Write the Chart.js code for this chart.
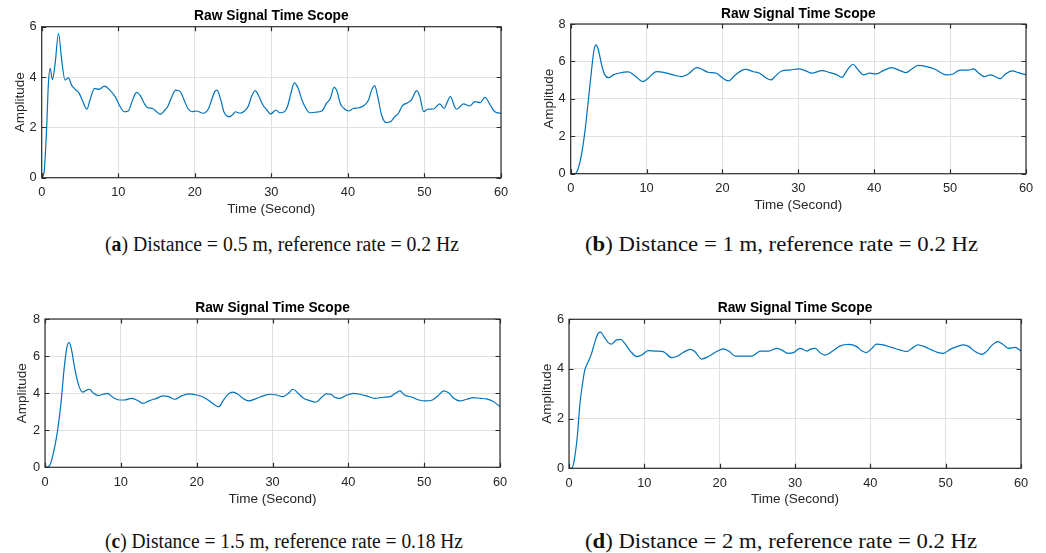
<!DOCTYPE html>
<html>
<head>
<meta charset="utf-8">
<script src="https://cdn.jsdelivr.net/npm/chart.js@4.4.1/dist/chart.umd.min.js"></script>
<style>
  html, body { margin:0; padding:0; background:#fff; }
  body { width:1046px; height:553px; position:relative; overflow:hidden; }
  .pane { position:absolute; }
  .cap { position:absolute; font-family:"Liberation Serif", "DejaVu Serif", serif; font-size:20px; line-height:24px; color:#111; white-space:nowrap; transform-origin:0 50%; }
</style>
</head>
<body>
<div class="pane" id="pa" style="left:0px;top:0px;width:520px;height:225px;"><canvas id="ca"></canvas></div>
<div class="pane" id="pb" style="left:520px;top:0px;width:526px;height:225px;"><canvas id="cb"></canvas></div>
<div class="pane" id="pc" style="left:0px;top:290px;width:520px;height:225px;"><canvas id="cc"></canvas></div>
<div class="pane" id="pd" style="left:520px;top:290px;width:526px;height:225px;"><canvas id="cd"></canvas></div>
<div class="cap" id="capA" data-w="354" style="left:105px;top:232px;">(<b>a</b>) Distance = 0.5 m, reference rate = 0.2 Hz</div>
<div class="cap" id="capB" data-w="393" style="left:585px;top:232px;">(<b>b</b>) Distance = 1 m, reference rate = 0.2 Hz</div>
<div class="cap" id="capC" data-w="358" style="left:105px;top:529px;">(<b>c</b>) Distance = 1.5 m, reference rate = 0.18 Hz</div>
<div class="cap" id="capD" data-w="392" style="left:585px;top:529px;">(<b>d</b>) Distance = 2 m, reference rate = 0.2 Hz</div>
<script>
// ---------------- DATA ----------------
const chartTitle = "Raw Signal Time Scope";
const xAxisLabel = "Time (Second)";
const yAxisLabel = "Amplitude";
const xTicks = [0, 10, 20, 30, 40, 50, 60];

// (a) Distance = 0.5 m
const timeA = [0,0.3,0.65,0.87,1.1,1.4,1.74,2.2,2.6,3.05,
  3.5,3.9,4.35,4.9,5.35,5.9,6.3,6.9,7.5,8.2,
  8.9,9.6,10.2,10.8,11.3,11.9,12.4,12.9,13.4,13.8,
  14.5,15,15.5,16.1,16.5,17,17.5,18.1,18.6,19.1,
  19.6,20.2,20.7,21.1,21.8,22.2,22.6,22.9,23.4,23.8,
  24.5,24.9,25.3,25.9,26.5,27,27.4,27.9,28.3,28.9,
  29.4,29.9,30.6,31.1,31.7,32.1,32.5,33,33.5,34,
  34.4,35,35.7,36.6,37.2,37.7,38.2,38.6,39,39.5,
  40.1,40.7,41.4,42,42.7,43.1,43.5,43.9,44.4,45,
  45.6,46.1,46.6,47.1,47.8,48.3,49,49.4,49.9,50.4,
  51.2,52,52.6,52.9,53.4,53.9,54.2,55.1,55.9,56.6,
  57.3,57.9,58.6,59.2,60];
const ampA = [0,0.2,2.0,3.7,4.35,3.9,4.5,5.73,4.7,3.88,
  3.97,3.68,3.52,3.35,3.05,2.72,3.08,3.55,3.51,3.64,
  3.48,3.22,2.85,2.62,2.65,3.11,3.39,3.25,2.95,2.79,
  2.75,2.62,2.52,2.69,2.85,3.22,3.48,3.42,3.09,2.75,
  2.62,2.65,2.6,2.56,2.75,3.09,3.42,3.48,3.09,2.62,
  2.42,2.49,2.62,2.56,2.65,2.85,3.22,3.46,3.28,2.89,
  2.69,2.53,2.69,2.58,2.62,2.82,3.28,3.77,3.55,3.09,
  2.82,2.58,2.6,2.65,2.95,3.15,3.59,3.42,2.95,2.75,
  2.65,2.75,2.78,2.85,3.09,3.48,3.66,3.22,2.49,2.19,
  2.23,2.42,2.56,2.85,2.98,3.09,3.46,3.22,2.62,2.72,
  2.73,2.93,2.75,2.95,3.22,2.85,2.72,2.93,2.85,3.02,
  2.98,3.19,2.89,2.62,2.56];
const yTicksA = [0, 2, 4, 6];

// (b) Distance = 1 m
const timeB = [0,0.57,1.0,1.45,1.9,2.33,2.77,3.07,3.34,3.65,
  4.08,4.5,5.0,5.6,6.3,7.6,8.5,9.5,10.2,11.3,
  12.4,13.5,14.6,15.5,16.6,17.3,18.1,19.2,19.9,20.8,
  21.7,23,24.1,24.9,25.8,26.4,26.9,27.8,28.9,30,
  30.9,31.8,33.1,34.2,35.1,35.7,36.6,37.2,37.9,38.6,
  39.4,40.3,41.2,42.3,43.4,44.2,44.9,45.8,46.9,48,
  48.9,49.5,50.4,51.3,52.4,53.1,53.7,54.5,55.3,55.8,
  56.6,57.3,58.2,59,60];
const ampB = [0,0,0.29,1.09,2.34,3.94,5.63,6.61,6.88,6.61,
  5.81,5.28,5.13,5.28,5.37,5.44,5.22,4.92,5.1,5.45,
  5.4,5.28,5.19,5.33,5.67,5.58,5.42,5.37,5.15,4.96,
  5.28,5.58,5.45,5.37,5.1,5.01,5.19,5.49,5.54,5.6,
  5.51,5.37,5.51,5.4,5.28,5.15,5.63,5.85,5.54,5.28,
  5.37,5.33,5.51,5.67,5.51,5.4,5.58,5.79,5.72,5.58,
  5.37,5.28,5.33,5.54,5.54,5.6,5.4,5.19,5.28,5.22,
  5.08,5.33,5.49,5.4,5.28];
const yTicksB = [0, 2, 4, 6, 8];

// (c) Distance = 1.5 m
const timeC = [0,0.57,1.1,1.6,2.1,2.55,2.86,3.17,3.5,3.96,
  4.5,5,5.4,5.85,6.4,7,7.7,8.2,9,9.8,
  10.5,11.4,12.1,12.9,13.8,14.7,15.6,16.3,17.1,18,
  18.9,20,20.9,21.8,22.4,22.9,23.5,24.2,24.75,25.4,
  26.1,26.9,27.9,28.8,29.7,30.5,31.4,32.1,32.7,33.4,
  34.1,34.9,35.7,36.5,37.1,37.7,38.2,38.9,39.8,40.7,
  41.5,42.4,43.5,44.6,45.5,46.2,46.8,47.4,48.4,49.3,
  50.2,51.1,51.8,52.6,53.3,53.9,54.7,55.6,56.5,57.4,
  58.2,59,60];
const ampC = [0,0.07,0.76,1.83,3.45,5.43,6.42,6.74,6.33,5.25,
  4.35,4.05,4.14,4.21,3.99,3.87,3.94,3.99,3.76,3.63,
  3.63,3.72,3.63,3.45,3.6,3.72,3.85,3.81,3.67,3.85,
  3.96,3.9,3.78,3.54,3.36,3.27,3.6,3.96,4.06,3.96,
  3.72,3.58,3.72,3.85,3.94,3.9,3.81,3.99,4.21,3.99,
  3.72,3.6,3.51,3.78,3.96,3.94,3.78,3.72,3.9,3.99,
  3.94,3.85,3.72,3.78,3.81,3.99,4.12,3.9,3.78,3.63,
  3.58,3.63,3.85,4.12,3.99,3.72,3.58,3.67,3.76,3.72,
  3.69,3.58,3.27];
const yTicksC = [0, 2, 4, 6, 8];

// (d) Distance = 2 m
const timeD = [0,0.35,0.7,1.1,1.46,1.8,2.1,2.57,3,3.45,
  3.9,4.2,4.65,5.2,5.66,6.3,6.86,7.4,8.2,9,
  9.65,10.5,11.6,12.5,13.6,14.3,15.2,16.1,16.7,17.6,
  18.5,19.6,20.5,21.2,22.1,23.2,24.3,25.4,26.5,27.6,
  28.2,29.1,29.8,30.7,31.6,32,32.7,33.3,34,34.9,
  36,37.1,38.2,38.8,39.5,40.2,40.8,41.7,42.8,43.9,
  44.8,45.7,46.3,47.2,48.1,49,49.7,50.6,51.5,52.4,
  53.1,53.9,54.8,55.4,56.2,56.9,57.6,58.3,59.2,60];
const ampD = [0,0,0.34,1.28,2.62,3.42,3.96,4.3,4.63,5.1,
  5.44,5.48,5.3,5.06,5.0,5.17,5.19,5.03,4.7,4.5,
  4.56,4.74,4.72,4.7,4.46,4.5,4.67,4.79,4.7,4.4,
  4.5,4.7,4.81,4.72,4.52,4.52,4.52,4.72,4.72,4.83,
  4.77,4.63,4.66,4.83,4.72,4.79,4.83,4.66,4.56,4.7,
  4.93,4.99,4.9,4.74,4.66,4.83,5.0,4.97,4.87,4.77,
  4.7,4.87,4.97,4.9,4.77,4.66,4.63,4.79,4.9,4.97,
  4.9,4.7,4.59,4.7,4.97,5.1,4.99,4.83,4.87,4.72];
const yTicksD = [0, 2, 4, 6];

// ---------------- LAYOUT (absolute page px) ----------------
const panels = [
  { id:'ca', cx:0,   cy:0,   cw:520, ch:225, pl:41.7,  pr:501,  pt:26.7,  pb:177.7, titleY:16,    xTitleY:209,   yTitleX:20,    t:timeA, v:ampA, yt:yTicksA },
  { id:'cb', cx:520, cy:0,   cw:526, ch:225, pl:570.7, pr:1026, pt:24,    pb:173.7, titleY:14,    xTitleY:205,   yTitleX:549,   t:timeB, v:ampB, yt:yTicksB },
  { id:'cc', cx:0,   cy:290, cw:520, ch:225, pl:45,    pr:500,  pt:319,   pb:467.3, titleY:307.7, xTitleY:499,   yTitleX:22.7,  t:timeC, v:ampC, yt:yTicksC },
  { id:'cd', cx:520, cy:290, cw:526, ch:225, pl:569,   pr:1021, pt:319.3, pb:468.3, titleY:308.3, xTitleY:499.3, yTitleX:547.3, t:timeD, v:ampD, yt:yTicksD }
];

const FONT = "'Liberation Sans', Arial, Helvetica, sans-serif";
const TITLE_SIZE = 13.8, TICK_SIZE = 12.8, LABEL_SIZE = 13.5;
const AXIS_COLOR = '#262626';

const boxPlugin = {
  id: 'matlabBox',
  afterDraw(chart) {
    const {ctx, chartArea:a, scales} = chart;
    ctx.save();
    ctx.strokeStyle = '#2e2e2e';
    ctx.lineWidth = 1.2;
    const L = 4.5;
    ctx.beginPath();
    scales.x.ticks.forEach(tk => {
      const px = Math.round(scales.x.getPixelForValue(tk.value)) + 0.5;
      ctx.moveTo(px, a.bottom); ctx.lineTo(px, a.bottom - L);
      ctx.moveTo(px, a.top); ctx.lineTo(px, a.top + L);
    });
    scales.y.ticks.forEach(tk => {
      const py = Math.round(scales.y.getPixelForValue(tk.value)) + 0.5;
      ctx.moveTo(a.left, py); ctx.lineTo(a.left + L, py);
      ctx.moveTo(a.right, py); ctx.lineTo(a.right - L, py);
    });
    ctx.stroke();
    ctx.strokeRect(a.left, a.top, a.right - a.left, a.bottom - a.top);
    ctx.restore();
  }
};

panels.forEach(p => {
  const titleLH = TITLE_SIZE * 1.2;
  const labelLH = LABEL_SIZE * 1.2;
  const titleCenter = p.titleY - p.cy;
  const titlePadTop = titleCenter - titleLH / 2;
  const titlePadBottom = (p.pt - p.cy) - titlePadTop - titleLH;
  const yAxisW = p.pl - p.cx;
  const xAxisH = p.ch - (p.pb - p.cy);
  const xTitlePadBottom = (p.cy + p.ch) - labelLH / 2 - p.xTitleY;
  const yTitlePadTop = (p.yTitleX - p.cx) - labelLH / 2;
  const points = p.t.map((x, i) => ({ x: x, y: p.v[i] }));
  const ymax = p.yt[p.yt.length - 1];

  new Chart(document.getElementById(p.id), {
    type: 'line',
    data: { datasets: [{
      data: points,
      borderColor: '#0072BD',
      borderWidth: 1.2,
      pointRadius: 0,
      fill: false,
      cubicInterpolationMode: 'monotone'
    }]},
    options: {
      responsive: true,
      maintainAspectRatio: false,
      animation: false,
      events: [],
      layout: { padding: { left: 0, top: 0, bottom: 0, right: (p.cx + p.cw) - p.pr } },
      plugins: {
        legend: { display: false },
        tooltip: { enabled: false },
        title: {
          display: true, text: chartTitle, fullSize: false, color: '#000',
          font: { family: FONT, size: TITLE_SIZE, weight: 'bold', lineHeight: 1.2 },
          padding: { top: titlePadTop, bottom: titlePadBottom }
        }
      },
      scales: {
        x: {
          type: 'linear', min: 0, max: 60,
          afterBuildTicks: s => { s.ticks = xTicks.map(v => ({ value: v })); },
          afterFit: s => { s.height = xAxisH; },
          grid: { color: '#e0e0e0', lineWidth: 1, drawTicks: false },
          border: { display: false },
          ticks: { color: AXIS_COLOR, font: { family: FONT, size: TICK_SIZE }, padding: 7, maxRotation: 0 },
          title: { display: true, text: xAxisLabel, color: AXIS_COLOR, font: { family: FONT, size: LABEL_SIZE, lineHeight: 1.2 }, padding: { top: 0, bottom: xTitlePadBottom } }
        },
        y: {
          type: 'linear', min: 0, max: ymax,
          afterBuildTicks: s => { s.ticks = p.yt.map(v => ({ value: v })); },
          afterFit: s => { s.width = yAxisW; },
          grid: { color: '#e0e0e0', lineWidth: 1, drawTicks: false },
          border: { display: false },
          ticks: { color: AXIS_COLOR, font: { family: FONT, size: TICK_SIZE }, padding: 5 },
          title: { display: true, text: yAxisLabel, color: AXIS_COLOR, font: { family: FONT, size: LABEL_SIZE, lineHeight: 1.2 }, padding: { top: yTitlePadTop, bottom: 0 } }
        }
      }
    },
    plugins: [boxPlugin]
  });
});

// fit caption widths to the reference
document.querySelectorAll('.cap').forEach(el => {
  const target = parseFloat(el.dataset.w);
  const w = el.getBoundingClientRect().width;
  if (w > 0) el.style.transform = 'scaleX(' + (target / w).toFixed(4) + ')';
});
</script>
</body>
</html>
